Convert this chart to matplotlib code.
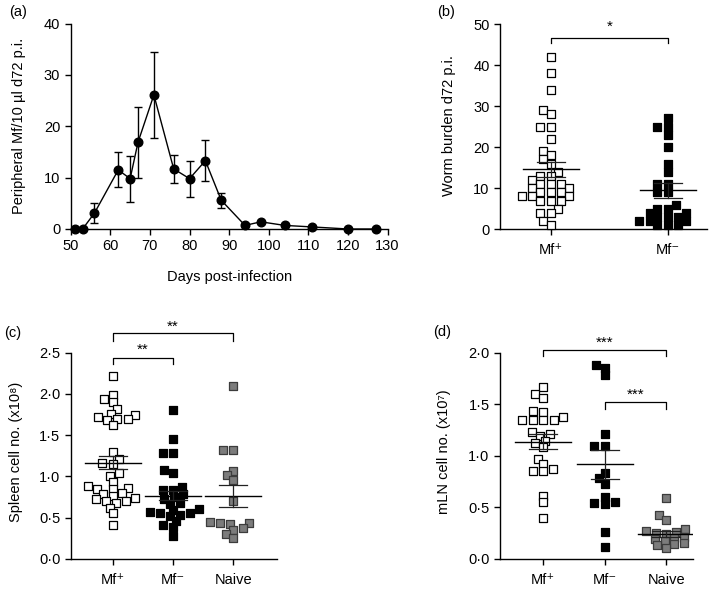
import matplotlib
matplotlib.use('Agg')
import matplotlib.pyplot as plt
import numpy as np
from matplotlib.ticker import FuncFormatter

plt.rcParams['font.family'] = ['Liberation Sans', 'DejaVu Sans']
plt.rcParams['font.size'] = 10.5
plt.rcParams['axes.linewidth'] = 1.0
plt.rcParams['xtick.major.width'] = 1.0
plt.rcParams['ytick.major.width'] = 1.0

W, H = 709, 589

# (a) peripheral Mf over time
days = [51, 53, 56, 62, 65, 67, 71, 76, 80, 84, 88, 94, 98, 104, 111, 120, 127]
mf_mean = [0, 0, 3.1, 11.5, 9.8, 16.9, 26.1, 11.7, 9.8, 13.3, 5.6, 0.7, 1.4, 0.7, 0.4, 0, 0]
mf_err = [0, 0, 1.9, 3.4, 4.5, 6.9, 8.4, 2.8, 3.5, 3.95, 1.5, 0, 0, 0, 0, 0, 0]

# (b) worm burden
groups_b = ['Mf⁺', 'Mf⁻']
worm_pos = [42, 38, 34, 29, 28, 25, 25, 22, 19, 18, 17, 16, 14, 13, 13, 12, 11, 11, 11,
            10, 10, 9, 9, 9, 8, 8, 8, 7, 7, 7, 5, 4, 4, 2, 1]
worm_neg = [27, 25, 25, 23, 20, 16, 14, 11, 11, 9, 9, 6, 5, 5, 4, 4, 3, 3, 3, 2, 2, 2, 1, 1, 1]
worm_mean = [14.6, 9.5]
worm_sem = [1.75, 1.8]

# (c) spleen cell no.
groups_cd = ['Mf⁺', 'Mf⁻', 'Naive']
spleen_pos = [2.22, 1.99, 1.94, 1.90, 1.82, 1.76, 1.75, 1.70, 1.70, 1.68, 1.72, 1.62, 1.30,
              1.21, 1.16, 1.15, 1.04, 1.00, 0.93, 0.88, 0.86, 0.84, 0.84, 0.80, 0.78, 0.76,
              0.74, 0.72, 0.70, 0.70, 0.68, 0.62, 0.55, 0.41]
spleen_neg = [1.80, 1.45, 1.28, 1.28, 1.08, 1.04, 0.87, 0.83, 0.83, 0.78, 0.75, 0.72, 0.68,
              0.66, 0.60, 0.59, 0.57, 0.56, 0.55, 0.53, 0.52, 0.46, 0.41, 0.39, 0.28]
spleen_naive = [2.10, 1.32, 1.32, 1.07, 1.01, 0.95, 0.70, 0.44, 0.43, 0.43, 0.42, 0.37,
                0.35, 0.30, 0.25]
spleen_mean = [1.165, 0.765, 0.765]
spleen_sem = [0.08, 0.055, 0.135]

# (d) mLN cell no.
mln_pos = [1.67, 1.60, 1.56, 1.43, 1.42, 1.38, 1.35, 1.35, 1.35, 1.35, 1.23, 1.21, 1.19,
           1.14, 1.12, 1.08, 0.97, 0.92, 0.87, 0.85, 0.85, 0.61, 0.55, 0.40]
mln_neg = [1.88, 1.85, 1.78, 1.21, 1.09, 1.09, 0.83, 0.78, 0.73, 0.60, 0.55, 0.53, 0.54,
           0.26, 0.11]
mln_naive = [0.59, 0.42, 0.38, 0.29, 0.27, 0.26, 0.25, 0.24, 0.21, 0.20, 0.19, 0.17, 0.15,
             0.14, 0.13, 0.10]
mln_mean = [1.137, 0.918, 0.24]
mln_sem = [0.075, 0.142, 0.03]

styles = [dict(facecolor='white', edgecolor='black'),
          dict(facecolor='black', edgecolor='black'),
          dict(facecolor='#7c7c7c', edgecolor='#3c3c3c')]


def rect(l, t, r, b):
    return [l / W, 1 - b / H, (r - l) / W, (b - t) / H]


def dot_fmt(v, pos):
    return f'{v:.1f}'.replace('.', '·')


def swarm(values, ppx, ppy, dx0=10.5, dy0=6.0):
    # beeswarm in pixel space with an elliptical keep-out, returns x offsets in data units
    order = np.argsort(values)
    placed = []
    offs = np.zeros(len(values))
    for i in order:
        y = values[i] * ppy
        cands = [0.0]
        for px, py in placed:
            dy = abs(py - y)
            if dy < dy0:
                dx = dx0 * np.sqrt(1 - (dy / dy0) ** 2)
                cands += [px - dx, px + dx]
        cands.sort(key=lambda c: (round(abs(c), 3), c))
        for c in cands:
            if all(((px - c) / dx0) ** 2 + ((py - y) / dy0) ** 2 >= 0.999
                   for px, py in placed):
                break
        placed.append((c, y))
        offs[i] = c / ppx
    return offs


def style_ax(ax):
    ax.spines['top'].set_visible(False)
    ax.spines['right'].set_visible(False)
    ax.tick_params(direction='out', length=4, labelsize=10.5, colors='black')


def dot_panel(ax, box, data, means, sems, xlim, ylim, yticks):
    ax.set_xlim(*xlim)
    ax.set_ylim(*ylim)
    wpx = box[2] - box[0]
    hpx = box[3] - box[1]
    ppx = wpx / (xlim[1] - xlim[0])
    ppy = hpx / (ylim[1] - ylim[0])
    for i, vals in enumerate(data):
        vals = np.asarray(vals, dtype=float)
        xs = i + swarm(vals, ppx, ppy)
        ax.scatter(xs, vals, marker='s', s=29, linewidths=0.9, zorder=3,
                   clip_on=False, **styles[i])
        mw = 28 / ppx
        cw = 14 / ppx
        m, s = means[i], sems[i]
        ax.plot([i - mw, i + mw], [m, m], color='black', lw=1.0, zorder=4)
        ax.plot([i - cw, i + cw], [m + s, m + s], color='#222222', lw=0.9, zorder=4)
        ax.plot([i - cw, i + cw], [m - s, m - s], color='#222222', lw=0.9, zorder=4)
        ax.plot([i, i], [m - s, m + s], color='#222222', lw=0.9, zorder=4)
    ax.set_yticks(yticks)
    ax.set_xticks(range(len(data)))
    style_ax(ax)
    ax.tick_params(axis='x', pad=6)


def bracket(ax, x0, x1, ytop, ylow, label, ystar):
    ax.plot([x0, x0, x1, x1], [ylow, ytop, ytop, ylow], color='black', lw=0.9,
            clip_on=False)
    ax.text((x0 + x1) / 2, ystar, label, ha='center', va='center', fontsize=11)


fig = plt.figure(figsize=(W / 100, H / 100), dpi=100)

# panel (a)
box_a = (70.7, 23.5, 387.6, 229)
ax_a = fig.add_axes(rect(*box_a))
ax_a.errorbar(days, mf_mean, yerr=mf_err, fmt='none', ecolor='black', elinewidth=1.0,
              capsize=3.2, capthick=1.0, zorder=2)
ax_a.plot(days, mf_mean, color='black', lw=1.0, marker='o', markersize=6.2, zorder=3,
          clip_on=False)
ax_a.set_xlim(50, 130)
ax_a.set_ylim(0, 40)
ax_a.set_xticks(range(50, 131, 10))
ax_a.set_yticks(range(0, 41, 10))
ax_a.set_xlabel('Days post-infection', fontsize=10.5, labelpad=12)
style_ax(ax_a)

# panel (b)
box_b = (500, 24, 706.7, 229.3)
ax_b = fig.add_axes(rect(*box_b))
dot_panel(ax_b, box_b, [worm_pos, worm_neg], worm_mean, worm_sem,
          (-0.43, 1.33), (0, 50), range(0, 51, 10))
ax_b.set_xticklabels(groups_b)
bracket(ax_b, 0, 1, 46.7, 45.3, '*', 49.3)

# panel (c)
box_c = (70.7, 352.7, 276.7, 558.7)
ax_c = fig.add_axes(rect(*box_c))
dot_panel(ax_c, box_c, [spleen_pos, spleen_neg, spleen_naive], spleen_mean, spleen_sem,
          (-0.70, 2.72), (0, 2.5), np.arange(0, 2.51, 0.5))
ax_c.set_xticklabels(groups_cd)
ax_c.yaxis.set_major_formatter(FuncFormatter(dot_fmt))
bracket(ax_c, 0, 1, 2.44, 2.36, '**', 2.53)
bracket(ax_c, 0, 2, 2.735, 2.64, '**', 2.82)

# panel (d)
box_d = (500, 352.7, 693.3, 558.7)
ax_d = fig.add_axes(rect(*box_d))
dot_panel(ax_d, box_d, [mln_pos, mln_neg, mln_naive], mln_mean, mln_sem,
          (-0.70, 2.44), (0, 2.0), np.arange(0, 2.01, 0.5))
ax_d.set_xticklabels(groups_cd)
ax_d.yaxis.set_major_formatter(FuncFormatter(dot_fmt))
bracket(ax_d, 1, 2, 1.52, 1.45, '***', 1.59)
bracket(ax_d, 0, 2, 2.03, 1.97, '***', 2.10)

# y labels and panel letters
ylabels = [('Peripheral Mf/10 µl d72 p.i.', 19, 126),
           ('Worm burden d72 p.i.', 449, 126),
           ('Spleen cell no. (x10⁸)', 16, 452),
           ('mLN cell no. (x10⁷)', 444, 452)]
for txt, x, y in ylabels:
    fig.text(x / W, 1 - y / H, txt, rotation=90, ha='center', va='center', fontsize=10.5)

letters = [('(a)', 9, 12), ('(b)', 437, 12), ('(c)', 4, 333), ('(d)', 433, 332)]
for txt, x, y in letters:
    fig.text(x / W, 1 - y / H, txt, ha='left', va='center', fontsize=10.5)

fig.savefig('out.png', dpi=100)
